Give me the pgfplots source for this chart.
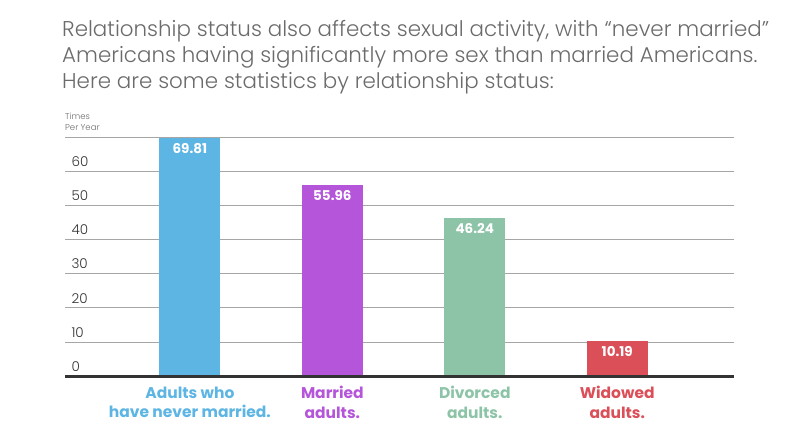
\documentclass[border=0pt]{standalone}
\usepackage{pgfplots}
\pgfplotsset{compat=1.18}
\usepackage{fontspec}
\setmainfont{Poppins}
\newfontfamily\lightfont{Poppins}[UprightFont=* Light]
\definecolor{cblue}{HTML}{5DB5E3}
\definecolor{cpurple}{HTML}{B455DA}
\definecolor{cgreen}{HTML}{8DC3A7}
\definecolor{cred}{HTML}{DB4F59}
\definecolor{titlegray}{HTML}{6B6B6B}
\definecolor{ticktext}{HTML}{333333}
\begin{document}
\begin{tikzpicture}
\path[use as bounding box] (0,0) rectangle (800pt,-440pt);
\node[anchor=base west, inner sep=0pt, text=titlegray, font=\lightfont\fontsize{21.4}{25}\selectfont] at (62pt,-36pt) {Relationship status also affects sexual activity, with “never married”};
\node[anchor=base west, inner sep=0pt, text=titlegray, font=\lightfont\fontsize{21.4}{25}\selectfont] at (62pt,-62pt) {Americans having significantly more sex than married Americans.};
\node[anchor=base west, inner sep=0pt, text=titlegray, font=\lightfont\fontsize{21.4}{25}\selectfont] at (62pt,-88pt) {Here are some statistics by relationship status:};
\node[anchor=south west, inner sep=0pt, align=left, text=titlegray, font=\lightfont\fontsize{8.5}{11}\selectfont] at (65pt,-131pt) {Times\\Per Year};
\begin{axis}[
  at={(65pt,-376pt)}, anchor=south west,
  scale only axis, width=669pt, height=239pt,
  xmin=-0.877, xmax=3.82, ymin=0, ymax=70,
  ybar, bar width=61pt, bar shift=0pt,
  axis line style={draw=none},
  ymajorgrids, grid style={draw=gray!70, line width=0.6pt},
  ytick={0,10,...,70},
  yticklabels={0,10,20,30,40,50,60,},
  major tick length=0pt,
  yticklabel style={anchor=south west, xshift=3pt, yshift=1pt, text=ticktext, font=\lightfont\fontsize{13.5}{15}\selectfont},
  xtick={0,1,2,3},
  xticklabels={
    {\textcolor{cblue}{Adults who}\\\textcolor{cblue}{have never married.}},
    {\textcolor{cpurple}{Married}\\\textcolor{cpurple}{adults.}},
    {\textcolor{cgreen}{Divorced}\\\textcolor{cgreen}{adults.}},
    {\textcolor{cred}{Widowed}\\\textcolor{cred}{adults.}}},
  xticklabel style={align=center, yshift=-7pt, font=\bfseries\fontsize{15.5}{19.5}\selectfont},
  /pgf/number format/assume math mode=true,
  nodes near coords,
  nodes near coords style={anchor=north, text=white, yshift=-2pt, font=\bfseries\fontsize{13.5}{15}\selectfont,
    /pgf/number format/fixed, /pgf/number format/precision=2, /pgf/number format/fixed zerofill},
  clip=false,
]
\addplot[fill=cblue, draw=none] coordinates {(0,69.81)};
\addplot[fill=cpurple, draw=none] coordinates {(1,55.96)};
\addplot[fill=cgreen, draw=none] coordinates {(2,46.24)};
\addplot[fill=cred, draw=none] coordinates {(3,10.19)};
\draw[line width=3pt, draw=ticktext] (rel axis cs:0,0) -- (rel axis cs:1,0);
\end{axis}
\end{tikzpicture}
\end{document}
